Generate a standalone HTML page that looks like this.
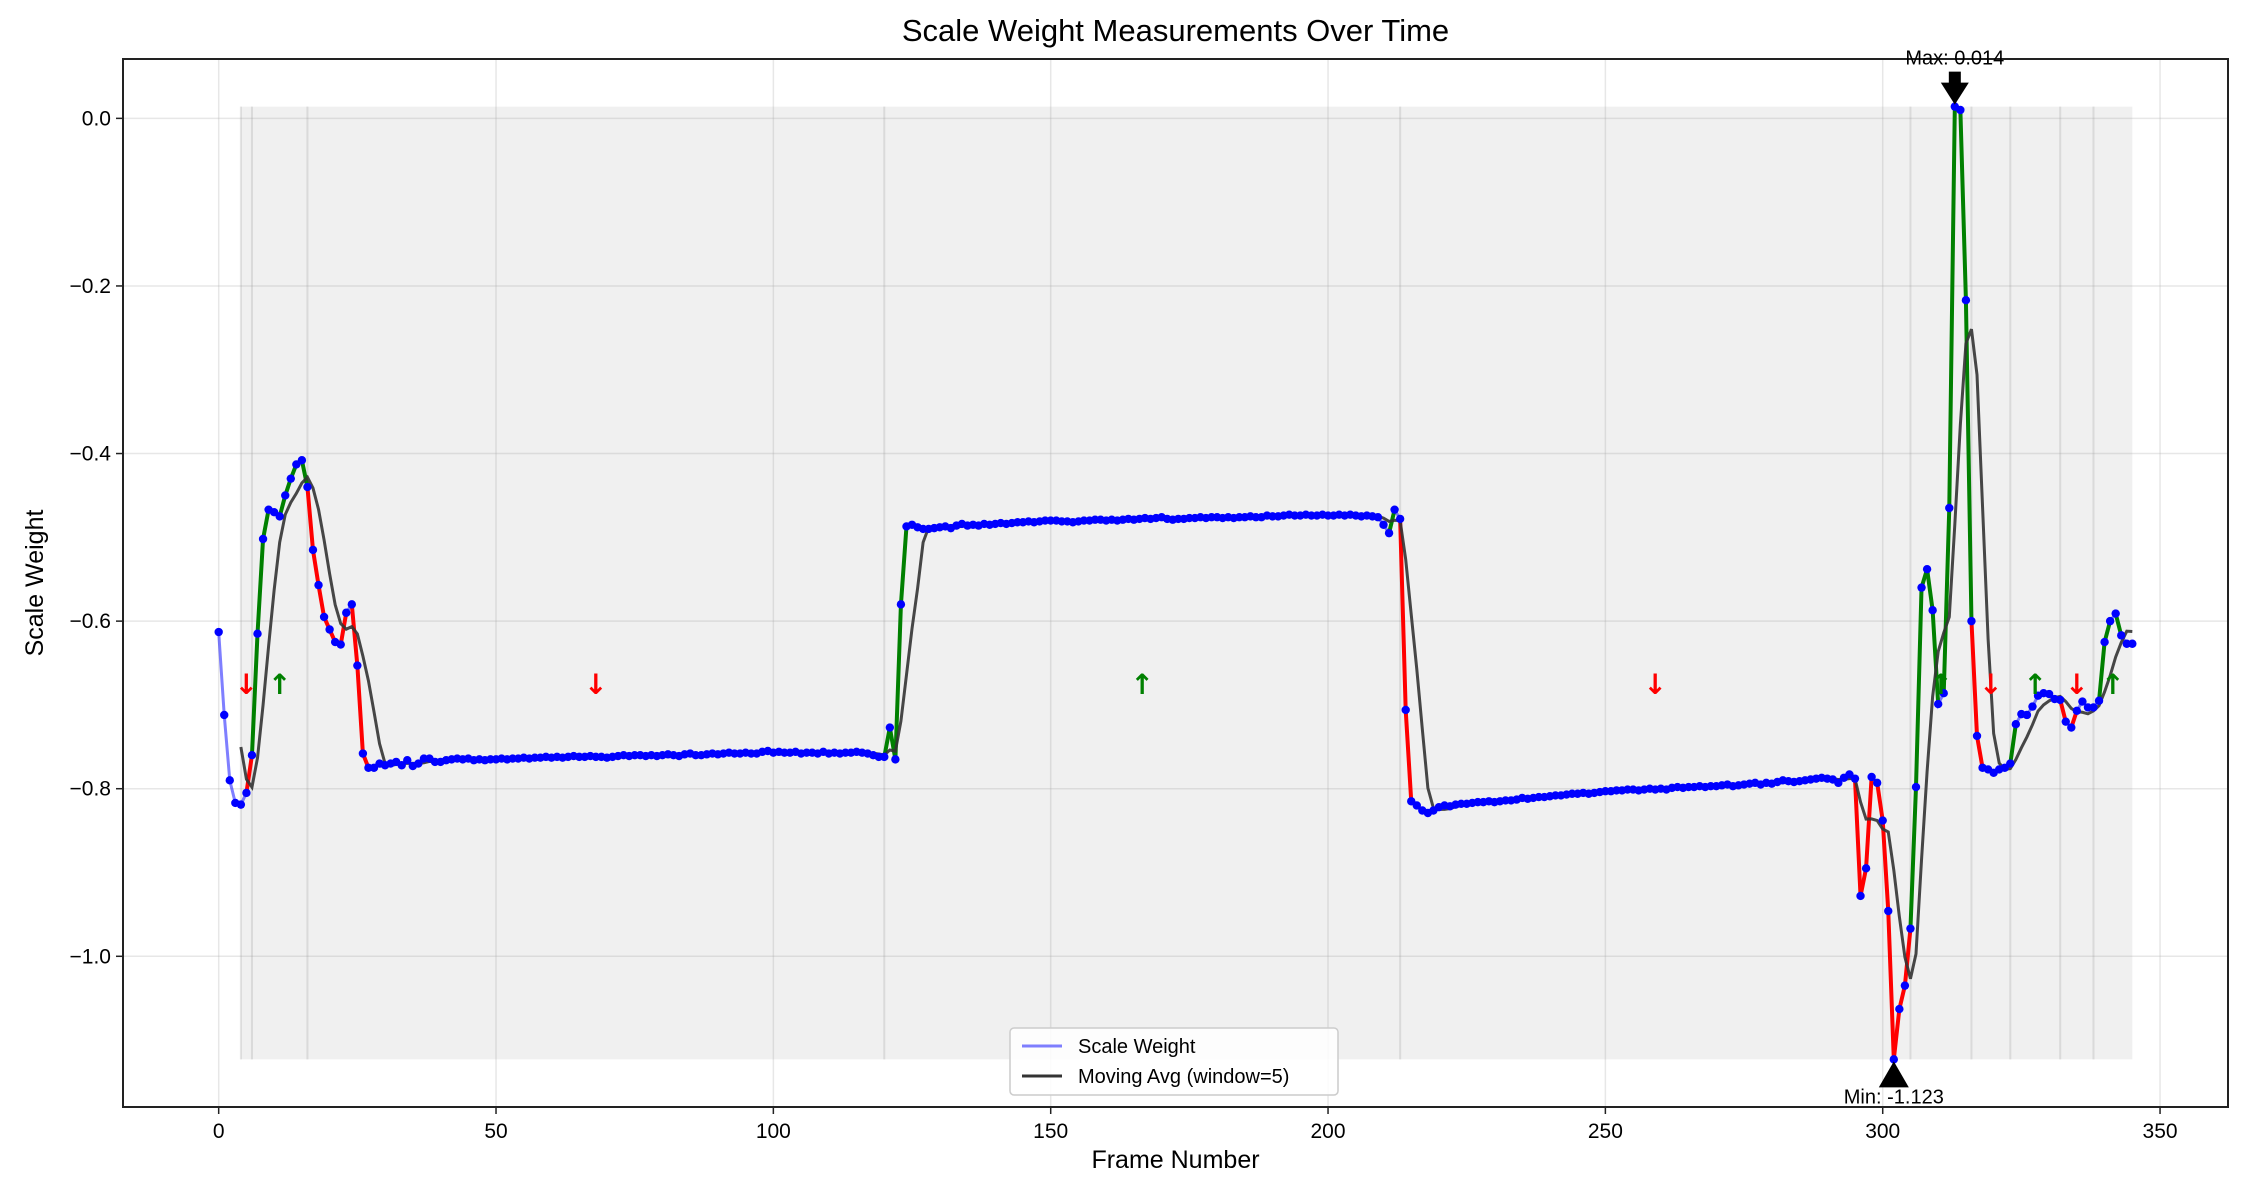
<!DOCTYPE html>
<html><head><meta charset="utf-8"><style>
html,body{margin:0;padding:0;background:#fff}
svg{display:block;font-family:"Liberation Sans","DejaVu Sans",sans-serif}
</style></head><body>
<svg id="chart" width="2250" height="1200" viewBox="0 0 2250 1200" xmlns="http://www.w3.org/2000/svg"></svg>
<script>
const weights = [
-0.613,-0.712,-0.790,-0.817,-0.819,-0.805,-0.760,-0.615,-0.502,-0.467,
-0.470,-0.475,-0.450,-0.430,-0.413,-0.408,-0.440,-0.515,-0.557,-0.595,
-0.610,-0.625,-0.628,-0.590,-0.580,-0.653,-0.758,-0.775,-0.775,-0.770,
-0.772,-0.770,-0.768,-0.772,-0.766,-0.773,-0.770,-0.764,-0.764,-0.768,
-0.768,-0.766,-0.765,-0.764,-0.765,-0.764,-0.766,-0.765,-0.766,-0.765,
-0.765,-0.764,-0.765,-0.764,-0.764,-0.763,-0.764,-0.763,-0.763,-0.762,
-0.763,-0.762,-0.763,-0.762,-0.761,-0.762,-0.762,-0.761,-0.762,-0.762,
-0.763,-0.762,-0.761,-0.760,-0.761,-0.760,-0.760,-0.761,-0.760,-0.761,
-0.760,-0.759,-0.760,-0.761,-0.759,-0.758,-0.760,-0.760,-0.759,-0.758,
-0.759,-0.758,-0.757,-0.758,-0.758,-0.757,-0.758,-0.758,-0.756,-0.755,
-0.757,-0.756,-0.757,-0.757,-0.756,-0.758,-0.757,-0.757,-0.758,-0.756,
-0.758,-0.757,-0.758,-0.757,-0.757,-0.756,-0.757,-0.758,-0.760,-0.762,
-0.762,-0.727,-0.765,-0.580,-0.487,-0.485,-0.488,-0.490,-0.490,-0.489,
-0.488,-0.487,-0.489,-0.486,-0.484,-0.486,-0.485,-0.486,-0.484,-0.485,
-0.484,-0.483,-0.484,-0.483,-0.482,-0.482,-0.481,-0.482,-0.481,-0.480,
-0.480,-0.480,-0.481,-0.481,-0.482,-0.481,-0.480,-0.480,-0.479,-0.479,
-0.480,-0.479,-0.480,-0.479,-0.478,-0.479,-0.478,-0.477,-0.478,-0.477,
-0.476,-0.478,-0.479,-0.478,-0.478,-0.477,-0.477,-0.476,-0.477,-0.476,
-0.476,-0.477,-0.476,-0.477,-0.476,-0.476,-0.475,-0.476,-0.476,-0.474,
-0.475,-0.475,-0.474,-0.473,-0.474,-0.474,-0.473,-0.474,-0.474,-0.473,
-0.474,-0.474,-0.473,-0.474,-0.473,-0.474,-0.475,-0.474,-0.475,-0.476,
-0.485,-0.495,-0.467,-0.478,-0.706,-0.815,-0.820,-0.826,-0.829,-0.826,
-0.822,-0.820,-0.821,-0.819,-0.818,-0.818,-0.817,-0.816,-0.816,-0.815,
-0.816,-0.815,-0.814,-0.814,-0.813,-0.811,-0.812,-0.811,-0.810,-0.810,
-0.809,-0.808,-0.808,-0.807,-0.806,-0.806,-0.805,-0.806,-0.805,-0.804,
-0.803,-0.803,-0.802,-0.802,-0.801,-0.801,-0.802,-0.801,-0.800,-0.801,
-0.800,-0.801,-0.799,-0.798,-0.799,-0.798,-0.798,-0.797,-0.798,-0.797,
-0.797,-0.796,-0.795,-0.797,-0.796,-0.795,-0.794,-0.793,-0.795,-0.793,
-0.794,-0.792,-0.790,-0.791,-0.792,-0.791,-0.790,-0.789,-0.788,-0.787,
-0.788,-0.789,-0.793,-0.787,-0.783,-0.788,-0.928,-0.895,-0.786,-0.793,
-0.838,-0.946,-1.123,-1.063,-1.035,-0.967,-0.798,-0.560,-0.538,-0.587,
-0.699,-0.686,-0.465,0.014,0.010,-0.217,-0.600,-0.737,-0.775,-0.777,
-0.781,-0.777,-0.775,-0.770,-0.723,-0.711,-0.712,-0.702,-0.689,-0.686,
-0.687,-0.693,-0.694,-0.720,-0.727,-0.707,-0.696,-0.703,-0.703,-0.695,
-0.625,-0.600,-0.591,-0.617,-0.627,-0.627
];
const trendStarts = [4,6,16,120,213,305,316,323,332,338];
const trendEnd = 345;
const trendDirs = ["down","up","down","up","down","up","down","up","down","up"];
const xTicks = [0,50,100,150,200,250,300,350];
const yTicks = [0.0,-0.2,-0.4,-0.6,-0.8,-1.0];
const maWindow = 5;

const NS="http://www.w3.org/2000/svg";
const svg=document.getElementById('chart');
const L=123,R=2228,T=59,B=1107;
const n=weights.length;
const vmax=Math.max(...weights), vmin=Math.min(...weights);
const xr=(n-1)*0.05, yr=(vmax-vmin)*0.05;
const x0=-xr, x1=(n-1)+xr, y0=vmin-yr, y1=vmax+yr;
const X=f=>L+(f-x0)/(x1-x0)*(R-L);
const Y=v=>B-(v-y0)/(y1-y0)*(B-T);
function mk(tag,attrs,parent){const e=document.createElementNS(NS,tag);for(const k in attrs)e.setAttribute(k,attrs[k]);(parent||svg).appendChild(e);return e;}

let t=mk('text',{x:(L+R)/2,y:41,'text-anchor':'middle','font-size':31,fill:'#000'});


t.textContent='Scale Weight Measurements Over Time';

const defs=mk('defs',{});const cp=mk('clipPath',{id:'plotclip'},defs);mk('rect',{x:L,y:T,width:R-L,height:B-T},cp);
const plot=mk('g',{'clip-path':'url(#plotclip)'});



xTicks.forEach(v=>{const g=mk('line',{x1:X(v),x2:X(v),y1:T,y2:B,stroke:'#b0b0b0','stroke-opacity':0.3,'stroke-width':1.5},plot);

});
yTicks.forEach(v=>{const g=mk('line',{x1:L,x2:R,y1:Y(v),y2:Y(v),stroke:'#b0b0b0','stroke-opacity':0.3,'stroke-width':1.5},plot);

});

const sh=mk('rect',{x:X(trendStarts[0]),y:Y(vmax),width:X(trendEnd)-X(trendStarts[0]),height:Y(vmin)-Y(vmax),fill:'#808080','fill-opacity':0.12},plot);


trendStarts.forEach(s=>{const l=mk('line',{x1:X(s),x2:X(s),y1:Y(vmax),y2:Y(vmin),stroke:'#999','stroke-opacity':0.25,'stroke-width':2},plot);

});

let d='';weights.forEach((v,i)=>{d+=(i?'L':'M')+X(i).toFixed(2)+','+Y(v).toFixed(2);});
const base=mk('path',{d:d,fill:'none',stroke:'#0000ff','stroke-opacity':0.5,'stroke-width':3},plot);



function dirAt(i){let dir=null;for(let k=0;k<trendStarts.length;k++){if(i>=trendStarts[k])dir=trendDirs[k];}return dir;}
for(let i=trendStarts[0];i<trendEnd;i++){
  const diff=weights[i+1]-weights[i];
  if(Math.abs(diff)<0.015)continue;
  const dir=dirAt(i);
  const seg=mk('line',{x1:X(i),y1:Y(weights[i]),x2:X(i+1),y2:Y(weights[i+1]),stroke:dir==='up'?'#008000':'#ff0000','stroke-width':4,'stroke-linecap':'round'},plot);
  
  
}

let md='';for(let i=maWindow-1;i<n;i++){let s=0;for(let k=0;k<maWindow;k++)s+=weights[i-k];const m=s/maWindow;md+=(i===maWindow-1?'M':'L')+X(i).toFixed(2)+','+Y(m).toFixed(2);}
const ma=mk('path',{d:md,fill:'none',stroke:'#333','stroke-opacity':0.9,'stroke-width':3},plot);



weights.forEach((v,i)=>{const c=mk('circle',{cx:X(i),cy:Y(v),r:4.2,fill:'#0000ff'},plot);

});

trendStarts.forEach((s,k)=>{const e=(k+1<trendStarts.length)?trendStarts[k+1]:trendEnd;const up=trendDirs[k]==='up';
  const a=mk('text',{x:X((s+e)/2),y:Y(-0.674)+11,'text-anchor':'middle','font-size':28,'font-family':'"DejaVu Sans",sans-serif','font-weight':'bold',fill:up?'#008000':'#ff0000'},plot);
  
  
  a.textContent=up?'↑':'↓';});

const fr=mk('rect',{x:L,y:T,width:R-L,height:B-T,fill:'none',stroke:'#222','stroke-width':2});



xTicks.forEach(v=>{mk('line',{x1:X(v),x2:X(v),y1:B,y2:B+7,stroke:'#222','stroke-width':1.5});
  const tl=mk('text',{x:X(v),y:B+31,'text-anchor':'middle','font-size':21,fill:'#000'});
  
  
  tl.textContent=String(v);});
yTicks.forEach(v=>{mk('line',{x1:L-7,x2:L,y1:Y(v),y2:Y(v),stroke:'#222','stroke-width':1.5});
  const tl=mk('text',{x:L-12,y:Y(v)+7,'text-anchor':'end','font-size':21,fill:'#000'});
  
  
  tl.textContent=(v<0?'\u2212':'')+Math.abs(v).toFixed(1);});

let xl=mk('text',{x:(L+R)/2,y:1168,'text-anchor':'middle','font-size':25,fill:'#000'});


xl.textContent='Frame Number';
let yl=mk('text',{x:0,y:0,'text-anchor':'middle','font-size':25,fill:'#000',transform:`translate(43,${(T+B)/2}) rotate(-90)`});


yl.textContent='Scale Weight';

const imax=weights.indexOf(vmax), imin=weights.indexOf(vmin);
const mx=X(imax), my=Y(vmax);
mk('rect',{x:mx-6,y:my-35,width:12,height:14,fill:'#000'});
const maxArrow=mk('polygon',{points:`${mx-14},${my-24} ${mx+14},${my-24} ${mx},${my-2}`,fill:'#000'});


const mt=mk('text',{x:mx,y:my-42,'text-anchor':'middle','font-size':20,fill:'#000'});


mt.textContent='Max: '+vmax.toFixed(3);
const nx=X(imin), ny=Y(vmin);
const minArrow=mk('polygon',{points:`${nx-15},${ny+28} ${nx+15},${ny+28} ${nx},${ny+2}`,fill:'#000'});


const nt=mk('text',{x:nx,y:ny+44,'text-anchor':'middle','font-size':20,fill:'#000'});


nt.textContent='Min: '+vmin.toFixed(3);

const lg=mk('g',{});


mk('rect',{x:1010,y:1028,width:328,height:67,rx:4,fill:'#fff','fill-opacity':0.85,stroke:'#ccc','stroke-width':1.5},lg);
mk('line',{x1:1022,x2:1062,y1:1046,y2:1046,stroke:'#0000ff','stroke-opacity':0.5,'stroke-width':3},lg);
let le1=mk('text',{x:1078,y:1053,'font-size':20,fill:'#000'},lg);


le1.textContent='Scale Weight';
mk('line',{x1:1022,x2:1062,y1:1076,y2:1076,stroke:'#333','stroke-width':3},lg);
let le2=mk('text',{x:1078,y:1083,'font-size':20,fill:'#000'},lg);


le2.textContent='Moving Avg (window=5)';
</script>
</body></html>
